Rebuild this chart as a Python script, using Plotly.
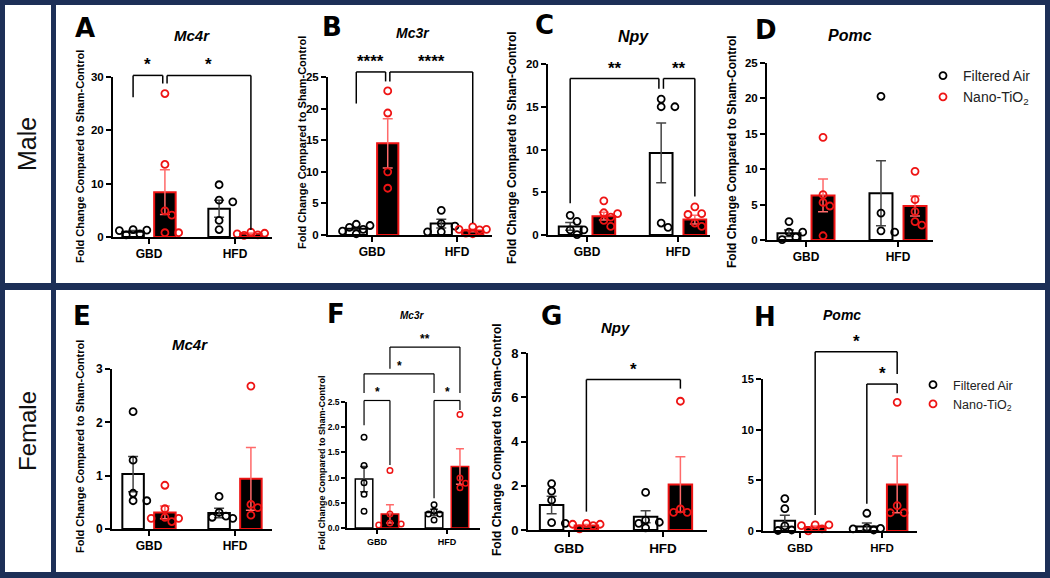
import numpy as np
import plotly.graph_objects as go

W, H = 1050, 578
CATEGORIES = ["GBD", "HFD"]
GROUP_NAMES = ["Filtered Air", "Nano-TiO<sub>2</sub>"]

# ---------------- data ----------------
A_FA_PTS = [[1.4, 1.3, 1.2, 0.6, 0.4], [9.8, 6.9, 6.6, 3.1, 1.4]]
A_NANO_PTS = [[26.9, 13.6, 4.9, 4.1, 0.8, 0.8], [0.9, 0.7, 0.6, 0.4, 0.3]]
A_FA_MEAN, A_FA_SEM = [1.0, 5.3], [0.2, 1.6]
A_NANO_MEAN, A_NANO_SEM = [8.4, 0.6], [4.2, 0.1]
A_TICKS = [0, 10, 20, 30]
A_BRACKETS = [((0, 0), (0, 1), 30.3, 26.2, 28.8, "*"),
              ((0, 1), (1, 1), 30.3, 28.8, 1.3, "*")]

B_FA_PTS = [[1.7, 1.5, 1.2, 0.9, 0.6, 0.2], [3.9, 1.8, 1.4, 0.5, 0.5]]
B_NANO_PTS = [[22.8, 19.3, 10.0, 7.4], [1.3, 0.9, 0.9, 0.8, 0.3, 0.2]]
B_FA_MEAN, B_FA_SEM = [1.0, 1.8], [0.2, 0.7]
B_NANO_MEAN, B_NANO_SEM = [14.5, 0.7], [3.9, 0.2]
B_TICKS = [0, 5, 10, 15, 20, 25]
B_BRACKETS = [((0, 0), (0, 1), 25.8, 20.8, 24.3, "****"),
              ((0, 1), (1, 1), 25.8, 24.3, 1.9, "****")]

C_FA_PTS = [[2.3, 1.6, 0.6, 0.6, 0.05], [15.9, 15.0, 15.0, 1.4, 0.9]]
C_NANO_PTS = [[4.0, 2.6, 2.5, 2.1, 1.7, 1.0], [3.3, 2.5, 2.4, 1.4, 1.0]]
C_FA_MEAN, C_FA_SEM = [1.0, 9.6], [0.45, 3.5]
C_NANO_MEAN, C_NANO_SEM = [2.2, 1.8], [0.45, 0.5]
C_TICKS = [0, 5, 10, 15, 20]
C_BRACKETS = [((0, 0), (1, 0), 18.3, 3.7, 17.1, "**"),
              ((1, 0), (1, 1), 18.3, 17.1, 4.5, "**")]

D_FA_PTS = [[2.6, 1.1, 1.1, 0.4, 0.05], [20.3, 3.8, 1.3, 1.1]]
D_NANO_PTS = [[14.5, 6.4, 5.3, 4.8, 0.6], [9.7, 5.7, 4.0, 2.6, 2.1]]
D_FA_MEAN, D_FA_SEM = [0.95, 6.6], [0.45, 4.6]
D_NANO_MEAN, D_NANO_SEM = [6.3, 4.8], [2.3, 1.4]
D_TICKS = [0, 5, 10, 15, 20, 25]
D_BRACKETS = []

E_FA_PTS = [[2.2, 1.29, 0.67, 0.53, 0.53], [0.61, 0.31, 0.24, 0.22, 0.2]]
E_NANO_PTS = [[0.82, 0.38, 0.22, 0.2, 0.2, 0.14], [2.68, 0.46, 0.4, 0.26]]
E_FA_MEAN, E_FA_SEM = [1.03, 0.3], [0.33, 0.09]
E_NANO_MEAN, E_NANO_SEM = [0.31, 0.94], [0.12, 0.59]
E_TICKS = [0, 1, 2, 3]
E_BRACKETS = []

F_FA_PTS = [[1.8, 1.24, 0.9, 0.67, 0.33], [0.46, 0.33, 0.28, 0.28, 0.16]]
F_NANO_PTS = [[1.14, 0.28, 0.1, 0.08, 0.06], [2.25, 0.99, 0.89, 0.8]]
F_FA_MEAN, F_FA_SEM = [0.97, 0.31], [0.25, 0.06]
F_NANO_MEAN, F_NANO_SEM = [0.28, 1.22], [0.18, 0.35]
F_TICKS = [0.0, 0.5, 1.0, 1.5, 2.0, 2.5]
F_BRACKETS = [((0, 0), (0, 1), 2.53, 2.04, 1.25, "*"),
              ((1, 0), (1, 1), 2.53, 0.59, 2.34, "*"),
              ((0, 0), (1, 0), 3.06, 2.68, 2.68, "*"),
              ((0, 1), (1, 1), 3.59, 3.16, 2.68, "**")]

G_FA_PTS = [[2.1, 1.76, 1.35, 0.33, 0.3], [1.7, 0.45, 0.35, 0.3, 0.1]]
G_NANO_PTS = [[0.3, 0.26, 0.26, 0.2, 0.05], [5.82, 0.95, 0.8, 0.8]]
G_FA_MEAN, G_FA_SEM = [1.13, 0.6], [0.4, 0.27]
G_NANO_MEAN, G_NANO_SEM = [0.2, 2.06], [0.05, 1.25]
G_TICKS = [0, 2, 4, 6, 8]
G_BRACKETS = [((0, 1), (1, 1), 6.8, 0.83, 6.39, "*")]

H_FA_PTS = [[3.2, 2.2, 0.5, 0.1, 0.05], [1.75, 0.3, 0.25, 0.2, 0.1]]
H_NANO_PTS = [[0.6, 0.6, 0.53, 0.2, 0.02], [12.7, 2.5, 1.8, 1.8]]
H_FA_MEAN, H_FA_SEM = [1.0, 0.45], [0.55, 0.35]
H_NANO_MEAN, H_NANO_SEM = [0.4, 4.6], [0.1, 2.8]
H_TICKS = [0, 5, 10, 15]
H_BRACKETS = [((0, 1), (1, 1), 17.7, 1.58, 15.5, "*"),
              ((1, 0), (1, 1), 14.5, 2.7, 13.6, "*")]

GENES = ["Mc4r", "Mc3r", "Npy", "Pomc", "Mc4r", "Mc3r", "Npy", "Pomc"]
LETTERS = ["A", "B", "C", "D", "E", "F", "G", "H"]

DATA = [
    (A_FA_PTS, A_NANO_PTS, A_FA_MEAN, A_FA_SEM, A_NANO_MEAN, A_NANO_SEM, A_TICKS, A_BRACKETS),
    (B_FA_PTS, B_NANO_PTS, B_FA_MEAN, B_FA_SEM, B_NANO_MEAN, B_NANO_SEM, B_TICKS, B_BRACKETS),
    (C_FA_PTS, C_NANO_PTS, C_FA_MEAN, C_FA_SEM, C_NANO_MEAN, C_NANO_SEM, C_TICKS, C_BRACKETS),
    (D_FA_PTS, D_NANO_PTS, D_FA_MEAN, D_FA_SEM, D_NANO_MEAN, D_NANO_SEM, D_TICKS, D_BRACKETS),
    (E_FA_PTS, E_NANO_PTS, E_FA_MEAN, E_FA_SEM, E_NANO_MEAN, E_NANO_SEM, E_TICKS, E_BRACKETS),
    (F_FA_PTS, F_NANO_PTS, F_FA_MEAN, F_FA_SEM, F_NANO_MEAN, F_NANO_SEM, F_TICKS, F_BRACKETS),
    (G_FA_PTS, G_NANO_PTS, G_FA_MEAN, G_FA_SEM, G_NANO_MEAN, G_NANO_SEM, G_TICKS, G_BRACKETS),
    (H_FA_PTS, H_NANO_PTS, H_FA_MEAN, H_FA_SEM, H_NANO_MEAN, H_NANO_SEM, H_TICKS, H_BRACKETS),
]

# ---------------- layout geometry (pixels) ----------------
# y-axis x, x-axis right end, GBD tick x, HFD tick x, y of zero, y of top tick
GEOM = [
    (113, 272, 149, 235, 237, 77),
    (328, 492, 372, 457, 235, 77),
    (548, 710, 587, 678, 235, 64),
    (767, 933, 806, 898, 240, 63),
    (112, 272, 149, 235, 529, 369),
    (347, 480, 377, 447, 528, 402),
    (528, 707, 569, 663, 530, 353),
    (763, 917, 800, 882, 531, 379),
]
# letter centre, gene-title centre, y-title centre (None = no title)
LABEL_POS = [
    ((85, 28), (192, 36), (80, 157)),
    ((332, 27), (413, 33), (302, 143)),
    ((544, 25), (633, 37), (512, 148)),
    ((766, 30), (850, 35), (732, 152)),
    ((82, 316), (190, 344), (80, 447)),
    ((336, 314), (412, 315), (322, 463)),
    ((551, 316), (615, 327), (497, 440)),
    ((765, 317), (842, 315), None),
]
# font sizes: ticks, x labels, y title, gene title
FONTS = [
    (11.5, 12, 11, 15), (11.5, 12, 11, 14), (11.5, 12, 12, 16), (11.5, 12, 12, 16),
    (12, 12, 11, 15), (8.5, 9, 9, 10), (13, 13.5, 12, 15), (11, 11.5, 12, 14),
]

NAVY = "#1d2f57"
RED = "#ee1414"
ERR_RED = "#ff6a6a"
FONT = "Arial, Liberation Sans, sans-serif"
OFF = 0.185
BW = 0.25


def px(x):
    return x / W


def py(y):
    return 1 - y / H


def swarm(values, center, ppx, ppy, d):
    placed, xs = [], []
    step, thr = 0.7 * d, 0.75 * d
    for v in values:
        yy = v * ppy
        best, best_dist = 0.0, -1
        for k in [0, 1, -1, 2, -2]:
            xx = k * step
            dist = min([np.hypot(xx - a, yy - b) for a, b in placed] or [1e9])
            if dist >= thr:
                best = xx
                break
            if dist > best_dist:
                best, best_dist = xx, dist
        placed.append((best, yy))
        xs.append(center + best / ppx)
    return xs


fig = go.Figure()
shapes, annotations = [], []

for (x0, y0, x1, y1) in [(5, 5, 51, 283), (56, 5, 1045, 283), (5, 290, 51, 572), (56, 290, 1045, 572)]:
    shapes.append(dict(type="rect", xref="paper", yref="paper", x0=px(x0), x1=px(x1), y0=py(y1), y1=py(y0),
                       fillcolor="white", line=dict(width=0), layer="below"))

annotations.append(dict(text="Male", x=px(27), y=py(144), xref="paper", yref="paper", textangle=-90,
                        showarrow=False, xanchor="center", yanchor="middle",
                        font=dict(family=FONT, size=25, color="#111")))
annotations.append(dict(text="Female", x=px(27), y=py(431), xref="paper", yref="paper", textangle=-90,
                        showarrow=False, xanchor="center", yanchor="middle",
                        font=dict(family=FONT, size=24, color="#111")))

layout_axes = {}
for i, (fa_pts, na_pts, fa_m, fa_s, na_m, na_s, ticks, brackets) in enumerate(DATA):
    n = i + 1
    xa = "x" if n == 1 else f"x{n}"
    ya = "y" if n == 1 else f"y{n}"
    ax_x, x_end, gbd, hfd, y0p, ytp = GEOM[i]
    u = hfd - gbd
    ytop = ticks[-1]
    ppy = (y0p - ytp) / ytop
    tick_f, xlab_f, ytitle_f, title_f = FONTS[i]
    small = (i == 5)
    msize = 5.5 if small else 7
    mline = 1.5 if small else 1.8
    bline = 1.5 if small else 2
    d = msize + mline + 1

    legend_name = "legend" if i == 3 else ("legend2" if i == 7 else None)

    for grp, (pts, means, sems) in enumerate([(fa_pts, fa_m, fa_s), (na_pts, na_m, na_s)]):
        off = -OFF if grp == 0 else OFF
        bx = [c + off for c in range(len(CATEGORIES))]
        fig.add_trace(go.Bar(
            x=bx, y=means, width=BW, xaxis=xa, yaxis=ya, showlegend=False,
            marker=dict(color="white" if grp == 0 else "black",
                        line=dict(color="black" if grp == 0 else RED, width=bline)),
            error_y=dict(type="data", array=sems, visible=True,
                         color="#444" if grp == 0 else ERR_RED, thickness=1.5, width=4 if small else 5),
            hoverinfo="skip",
        ))
        xs, ys = [], []
        for c, vals in enumerate(pts):
            xs += swarm(vals, c + off, u, ppy, d)
            ys += list(vals)
        tr = dict(x=xs, y=ys, mode="markers", xaxis=xa, yaxis=ya, name=GROUP_NAMES[grp], cliponaxis=False,
                  marker=dict(symbol="circle-open", size=msize, color="black" if grp == 0 else RED,
                              line=dict(width=mline)),
                  showlegend=legend_name is not None)
        if legend_name:
            tr["legend"] = legend_name
        fig.add_trace(go.Scatter(**tr))

    xkey = "xaxis" if n == 1 else f"xaxis{n}"
    ykey = "yaxis" if n == 1 else f"yaxis{n}"
    layout_axes[xkey] = dict(
        domain=[px(ax_x), px(x_end)], range=[(ax_x - gbd) / u, (x_end - gbd) / u], anchor=ya,
        tickvals=list(range(len(CATEGORIES))), ticktext=CATEGORIES, ticks="outside",
        ticklen=4 if small else 5, tickwidth=bline, tickcolor="black",
        showline=True, linewidth=bline, linecolor="black", showgrid=False, zeroline=False,
        tickfont=dict(family=FONT, size=xlab_f, color="black", weight="bold"), fixedrange=True)
    layout_axes[ykey] = dict(
        domain=[py(y0p), py(ytp)], range=[0, ytop], anchor=xa,
        tickvals=ticks, ticktext=[f"{t:.1f}" if small else f"{t:g}" for t in ticks],
        ticks="outside", ticklen=4 if small else 5, tickwidth=bline, tickcolor="black",
        showline=True, linewidth=bline, linecolor="black", showgrid=False, zeroline=False,
        tickfont=dict(family=FONT, size=tick_f, color="black", weight="bold"), fixedrange=True)

    (lx, ly), (tx, ty), yt = LABEL_POS[i]
    annotations.append(dict(text=LETTERS[i], x=px(lx), y=py(ly), xref="paper", yref="paper", showarrow=False,
                            xanchor="center", yanchor="middle",
                            font=dict(family="DejaVu Sans, sans-serif", size=26, color="black", weight="bold")))
    annotations.append(dict(text=f"<b><i>{GENES[i]}</i></b>", x=px(tx), y=py(ty), xref="paper", yref="paper",
                            showarrow=False, xanchor="center", yanchor="middle",
                            font=dict(family=FONT, size=title_f, color="black")))
    if yt is not None:
        annotations.append(dict(text="<b>Fold Change Compared to Sham-Control</b>", x=px(yt[0]), y=py(yt[1]),
                                xref="paper", yref="paper", textangle=-90, showarrow=False,
                                xanchor="center", yanchor="middle",
                                font=dict(family=FONT, size=ytitle_f, color="black")))

    # significance brackets
    ends = {}
    for (a, b, top, e1, e2, lab) in brackets:
        ends.setdefault((a, top), []).append("L")
        ends.setdefault((b, top), []).append("R")
    for (a, b, top, e1, e2, lab) in brackets:
        x1 = a[0] + (-OFF if a[1] == 0 else OFF)
        x2 = b[0] + (-OFF if b[1] == 0 else OFF)
        if len(ends[(a, top)]) > 1:
            x1 += 0.025
        if len(ends[(b, top)]) > 1:
            x2 -= 0.025
        yref = f"{ya} domain"
        for (xa0, ya0, xa1, ya1) in [(x1, e1, x1, top), (x1, top, x2, top), (x2, top, x2, e2)]:
            shapes.append(dict(type="line", xref=xa, yref=yref, x0=xa0, x1=xa1, y0=ya0 / ytop, y1=ya1 / ytop,
                               line=dict(color="black", width=1.5 if not small else 1.2)))
        annotations.append(dict(text=f"<b>{lab}</b>", x=(x1 + x2) / 2, y=top / ytop, xref=xa, yref=yref,
                                showarrow=False, xanchor="center", yanchor="bottom", yshift=-1,
                                font=dict(family=FONT, size=12 if small else 17, color="black")))

fig.update_layout(
    width=W, height=H, margin=dict(l=0, r=0, t=0, b=0, pad=0, autoexpand=False),
    paper_bgcolor=NAVY, plot_bgcolor="rgba(0,0,0,0)",
    barmode="overlay", shapes=shapes, annotations=annotations,
    legend=dict(x=px(923), y=py(60), xanchor="left", yanchor="top", bgcolor="rgba(0,0,0,0)",
                font=dict(family=FONT, size=14, color="#222"), tracegroupgap=4),
    legend2=dict(x=px(913), y=py(370), xanchor="left", yanchor="top", bgcolor="rgba(0,0,0,0)",
                 font=dict(family=FONT, size=12.5, color="#222"), tracegroupgap=4),
    **layout_axes,
)

fig.write_html("out.html")
